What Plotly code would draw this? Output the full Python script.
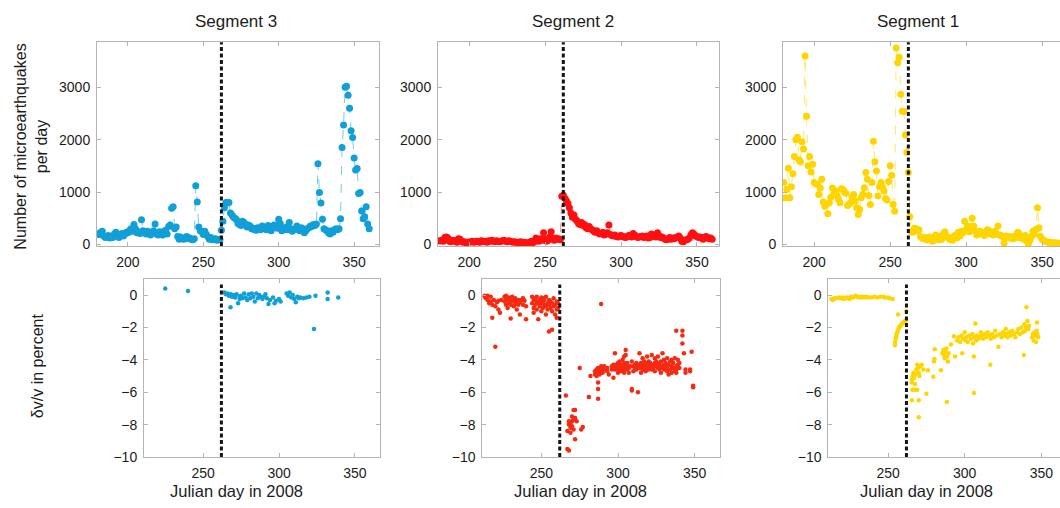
import plotly.graph_objects as go

# ---------------- data ----------------
DAY_START = 180

# daily number of microearthquakes (top row), starting at DAY_START
seg3_counts = [200, 190, 230, 250, 160, 130, 140, 170, 120, 150,
               130, 200, 230, 170, 130, 190, 210, 160, 200, 230,
               220, 260, 300, 250, 380, 300, 220, 240, 210, 470,
               260, 230, 200, 250, 220, 180, 230, 260, 390, 200,
               180, 240, 210, 180, 250, 270, 200, 340, 370, 690,
               720, 300, 330, 150, 100, 140, 110, 100, 120, 150,
               110, 120, 100, 90, 110, 1120, 810, 330, 260, 240,
               190, 250, 190, 150, 100, 130, 90, 100, 110, 80,
               90, 100, 270, 440, 700, 800, 790, 800, 600, 560,
               520, 500, 470, 400, 380, 360, 440, 420, 380, 330,
               370, 350, 300, 310, 280, 270, 320, 300, 280, 350,
               330, 300, 280, 360, 320, 260, 330, 370, 350, 310,
               480, 400, 260, 300, 280, 330, 280, 420, 300, 250,
               280, 300, 350, 280, 260, 320, 300, 220, 260, 300,
               320, 350, 340, 380, 360, 390, 1540, 990, 790, 480,
               300, 280, 260, 220, 200, 260, 230, 280, 300, 280,
               300, 490, 1850, 2280, 3000, 3020, 2850, 2600, 2170, 2040,
               1650, 1420, 1450, 970, 990, 640, 490, 530, 720, 390,
               300]

seg2_counts = [70, 60, 80, 60, 130, 140, 120, 60, 50, 80,
               70, 60, 40, 110, 100, 60, 40, 50, 30, 40,
               40, 50, 60, 40, 50, 60, 50, 40, 70, 60,
               50, 60, 40, 70, 60, 80, 60, 50, 70, 60,
               50, 60, 70, 80, 60, 50, 70, 60, 50, 40,
               50, 40, 30, 40, 50, 30, 40, 30, 20, 30,
               40, 60, 30, 50, 120, 90, 60, 110, 80, 220,
               100, 60, 80, 140, 240, 110, 80, 120, 100, 110,
               90, 920, 940, 880, 840, 780, 700, 600, 520, 560,
               480, 450, 400, 380, 420, 360, 380, 320, 300, 340,
               300, 280, 250, 230, 260, 220, 200, 210, 230, 180,
               200, 220, 370, 190, 170, 160, 180, 150, 140, 160,
               170, 150, 140, 130, 150, 170, 160, 140, 210, 180,
               150, 130, 140, 150, 160, 130, 150, 160, 120, 130,
               200, 160, 150, 140, 220, 170, 130, 140, 120, 100,
               90, 110, 130, 100, 120, 110, 130, 140, 160, 120,
               60, 50, 80, 90, 100, 120, 180, 220, 200, 160,
               150, 130, 140, 130, 100, 120, 150, 130, 110, 120,
               100]

seg1_counts = [1180, 890, 1050, 1455, 890, 1100, 1350, 1680, 2000, 2045,
               1615, 1577, 1960, 1820, 3600, 2450, 1500, 1680, 1385, 1530,
               1180, 1160, 1150, 955, 1077, 1244, 808, 730, 760, 583,
               795, 900, 1077, 968, 1020, 940, 860, 795, 1064, 1050,
               1000, 975, 744, 770, 795, 900, 955, 827, 700, 570,
               667, 890, 960, 1083, 1372, 1244, 936, 763, 1180, 1968,
               1577, 1404, 923, 1100, 1180, 1096, 1020, 878, 846, 1200,
               1500, 1320, 763, 635, 3750, 3468, 3577, 2870, 2545, 2540,
               2090, 1756, 1372, 530, 240, 230, 310, 300, 260, 280,
               150, 120, 110, 130, 90, 100, 140, 80, 60, 130,
               180, 120, 90, 150, 100, 200, 240, 160, 130, 100,
               120, 80, 150, 180, 120, 230, 160, 250, 220, 440,
               280, 350, 240, 340, 500, 350, 250, 180, 200, 250,
               230, 200, 170, 220, 280, 260, 200, 220, 180, 250,
               200, 350, 180, 170, 150, 20, 160, 130, 150, 120,
               140, 110, 160, 130, 230, 200, 120, 150, 100, 170,
               60, 10, 80, 150, 250, 200, 290, 700, 320, 150,
               100, 80, 60, 50, 40, 35, 30, 25, 30, 20,
               25, 20]

# dv/v in percent (bottom row)
seg3_dv_day = [225, 240, 264, 265, 266, 267, 268, 268, 269, 270, 271, 272, 273, 274, 274,
               275, 276, 277, 278, 279, 280, 281, 282, 283, 284, 285, 286, 287, 288, 289,
               290, 291, 292, 293, 294, 296, 297, 298, 300, 301, 305, 306, 307, 308, 309,
               310, 311, 312, 313, 314, 316, 318, 320, 323, 324, 332, 332, 339]
seg3_dv = [0.4, 0.25, 0.15, 0.05, 0.1, -0.05, -0.75, 0.05, -0.1, 0.0, -0.15, 0.05, -0.5, -0.1, -0.25,
           -0.05, -0.2, 0.1, -0.15, -0.3, 0.05, -0.2, 0.1, -0.1, -0.4, 0.1, -0.2, 0.0, -0.1, -0.25,
           -0.1, 0.05, -0.2, -0.55, -0.3, -0.15, -0.5, -0.35, -0.25, -0.4, 0.1, -0.05, 0.15, -0.15, 0.0,
           -0.25, -0.45, -0.1, -0.2, -0.15, -0.2, -0.15, -0.1, -2.1, -0.05, 0.15, -0.25, -0.15]

seg2_dv_day = [213, 213, 214, 215, 215, 216, 217, 217, 218, 218, 219, 220, 220, 221, 222, 222, 223, 224,
               226, 226, 227, 227, 227, 228, 228, 229, 229, 230, 230, 230, 231, 231, 232, 232, 233, 233,
               234, 234, 235, 235, 236, 236, 237, 238, 238, 239, 240, 240,
               244, 244, 245, 245, 245, 246, 246, 247, 247, 247, 248, 248, 249, 249, 250, 250, 250,
               251, 251, 251, 252, 252, 253, 253, 253, 254, 254, 255, 255, 255, 256, 256, 257, 257, 257,
               258, 258, 259, 259, 260, 260, 260, 261, 261,
               266, 267, 267, 268, 268, 268, 269, 269, 269, 270, 270, 270, 271, 271, 271, 272, 272, 272,
               273, 275, 276, 277, 281, 282, 285, 285, 286, 286, 286, 287, 287, 287, 287, 287,
               288, 288, 288, 289, 289, 289, 290, 290, 291, 291, 293, 293, 294, 296, 296, 297, 297,
               298, 298, 298, 299, 299, 300, 300, 300, 301, 301, 302, 302, 302, 303, 303,
               304, 304, 304, 304, 305, 305, 305, 305, 306, 306, 306, 307, 307, 308, 309, 309, 309,
               310, 310, 311, 311, 312, 312, 313, 313, 314, 314, 314, 315, 315, 315, 316, 316, 316,
               317, 317, 318, 318, 318, 319, 319, 320, 320, 320, 321, 321, 322, 322, 322, 323, 323,
               324, 324, 324, 325, 325, 326, 326, 326, 327, 327, 328, 328, 328, 329, 329, 330, 330, 330,
               331, 331, 332, 332, 332, 333, 333, 334, 334, 335, 335, 335, 336, 336, 337, 337,
               338, 338, 338, 338, 339, 339, 340, 340, 342, 342, 342, 343, 344, 344, 347, 347, 348, 349, 349]
seg2_dv = [-0.05, -0.1, -0.2, -0.05, -0.3, -0.5, -0.1, -0.4, -1.4, -0.6, -0.3, -3.2, -0.7, -0.45, -0.35, -0.9, -1.1, -0.3,
           -0.1, -0.4, -0.05, -0.2, -0.6, -0.3, -0.8, -0.5, -0.15, -0.25, -1.45, -0.6, -0.4, -0.1, -0.7, -0.3, -0.2, -0.55,
           -0.35, -0.9, -0.6, -0.3, -1.2, -0.45, -0.3, -0.2, -0.6, -0.35, -1.5, -0.7,
           -0.1, -0.5, -0.3, -0.8, -1.1, -0.2, -0.6, -0.4, -0.9, -0.1, -0.5, -1.5, -0.3, -0.7, -0.15, -0.5, -1.0,
           -0.4, -0.8, -0.2, -0.6, -0.3, -0.7, -1.2, -0.1, -0.5, -0.9, -0.3, -2.25, -0.6, -0.8, -0.4, -2.15, -0.5, -1.0,
           -0.2, -0.7, -0.6, -1.2, -0.4, -0.9, -1.4, -0.5, -0.8,
           -6.2, -8.4, -9.5, -8.0, -9.6, -7.8, -7.9, -8.5, -8.2, -7.5, -7.8, -8.1, -7.1, -7.7, -8.3, -7.1, -8.9, -7.6,
           -7.8, -4.5, -8.3, -8.15, -6.3, -5.0, -4.9, -4.7, -4.6, -4.8, -5.0, -4.5, -4.7, -5.4, -5.8, -6.4,
           -4.5, -4.6, -4.9, -4.4, -4.7, -0.55, -4.5, -4.8, -4.6, -4.4, -4.7, -4.5, -4.9, -4.6, -4.4, -5.1, -4.3,
           -3.6, -4.4, -4.6, -4.3, -4.5, -4.2, -4.6, -4.8, -4.4, -4.1, -4.5, -4.7, -4.3, -4.0, -4.4,
           -4.2, -4.6, -4.8, -3.8, -4.4, -4.5, -3.4, -3.7, -4.3, -4.6, -4.2, -4.5, -4.8, -4.4, -5.8, -5.9, -4.1,
           -4.4, -4.7, -4.3, -4.5, -4.6, -4.2, -6.0, -4.4, -3.6, -4.3, -4.5, -4.2, -4.5, -4.8, -4.4, -3.9, -4.6,
           -4.3, -4.1, -4.5, -4.2, -4.7, -4.4, -3.8, -4.3, -4.6, -4.1, -4.5, -4.2, -3.7, -4.4, -4.6, -4.3, -4.5,
           -4.2, -3.9, -4.7, -4.4, -4.1, -4.5, -4.3, -3.8, -4.6, -4.2, -4.4, -4.8, -4.1, -3.6, -4.5, -4.3, -4.6, -4.0,
           -4.4, -4.2, -4.7, -3.9, -4.5, -4.3, -4.9, -4.6, -4.1, -4.4, -4.8, -4.0, -4.2, -4.5, -4.7, -3.9,
           -2.2, -4.4, -4.6, -4.8, -4.3, -4.0, -4.5, -4.2, -2.2, -2.5, -3.0, -3.6, -4.8, -4.6, -4.7, -4.6, -3.5, -5.6, -5.7]

seg1_dv_day = [213, 214, 215, 216, 218, 219, 220, 221, 222, 223, 224, 225, 226, 227, 228, 229, 230, 231,
               232, 233, 234, 235, 236, 237, 239, 241, 243, 245, 247, 248, 250, 251, 253,
               254.5, 254.7, 255.0, 255.3, 255.6, 256.0, 256.4, 256.8, 257.2, 257.7, 258.2, 258.8,
               259.4, 260.0, 260.6, 261.2, 261.7, 256.5, 261.8,
               265.5, 265.7, 266.0, 266.5, 267.0, 267.5, 268.0, 268.5, 269.0, 269.5, 270.0, 270.5,
               271.0, 272.0, 273.0, 266.0, 267.5, 269.0, 265.5, 270.0, 270.0,
               275.0, 276.0, 279.5, 280.0, 280.3, 280.5, 284.5, 285.5, 286.0, 286.5, 287.0, 287.5,
               288.0, 288.5, 289.0, 289.5, 288.3, 291.0, 293.0, 293.7, 295.0, 296.0, 297.0, 298.0,
               298.4, 299.0, 300.0, 300.5, 301.0, 302.0, 303.0, 304.0, 305.0, 305.5, 306.0, 306.0,
               306.0, 307.0, 307.5, 308.0, 309.0, 310.0, 310.5, 311.0, 312.0, 313.0, 314.0, 315.0,
               316.0, 316.7, 317.0, 318.0, 319.0, 320.0, 321.0, 322.0, 323.0, 324.0, 325.0, 326.0,
               326.8, 327.0, 328.0, 329.0, 330.0, 331.0, 332.0, 333.0, 334.0, 335.0, 336.0, 337.0,
               338.0, 338.6, 339.0, 339.5, 340.0, 340.3, 341.0, 341.5, 342.0, 344.0, 344.5, 345.0,
               345.5, 346.0, 346.5, 347.0, 347.2, 347.5, 348.0]
seg1_dv = [-0.25, -0.3, -0.2, -0.2, -0.15, -0.2, -0.15, -0.25, -0.2, -0.15, -0.2, -0.25, -0.1, -0.15, -0.1, -0.05, -0.1, -0.15,
           -0.1, -0.15, -0.1, -0.15, -0.1, -0.15, -0.15, -0.1, -0.15, -0.1, -0.1, -0.15, -0.15, -0.2, -0.25,
           -3.1, -2.9, -2.7, -2.55, -2.4, -2.3, -2.2, -2.1, -2.0, -1.95, -1.9, -1.8,
           -1.75, -1.7, -1.65, -1.6, -1.55, -1.2, -1.0,
           -5.4, -5.2, -5.0, -4.8, -5.1, -5.5, -4.9, -4.6, -4.3, -4.5, -4.8, -5.0,
           -4.4, -4.3, -4.6, -5.85, -5.85, -5.85, -6.5, -6.5, -7.55,
           -6.1, -4.65, -5.05, -4.1, -3.95, -3.35, -4.65, -3.6, -3.4, -3.7, -3.9, -3.5,
           -3.3, -3.8, -4.1, -3.6, -6.6, -3.05, -2.55, -3.8, -2.8, -2.6, -2.9, -2.5,
           -3.6, -2.7, -2.3, -2.8, -2.6, -2.9, -2.5, -2.7, -2.4, -3.0, -2.6, -3.8,
           -6.05, -1.75, -2.8, -2.5, -2.7, -2.6, -2.3, -2.5, -2.7, -2.4, -2.6, -2.3,
           -2.5, -4.3, -2.7, -2.4, -2.6, -2.2, -2.5, -3.2, -2.4, -2.6, -2.3, -2.5,
           -2.1, -2.4, -2.6, -2.3, -2.5, -2.2, -2.4, -2.6, -2.3, -2.1, -2.4, -2.0,
           -2.3, -3.7, -1.8, -2.2, -2.0, -0.75, -1.6, -2.1, -1.9, -2.6, -2.4, -2.8,
           -2.3, -2.5, -2.9, -2.2, -1.7, -2.4, -2.6]

INJECTION_DAY = 262
panel_titles = ["Segment 3", "Segment 2", "Segment 1"]
count_ticks = [0, 1000, 2000, 3000]
day_ticks_top = [200, 250, 300, 350]
day_ticks_bottom = [250, 300, 350]
dv_ticks = [0, -2, -4, -6, -8, -10]

# ---------------- styling ----------------
W, H = 1060, 508
BLUE = "#109fd7"
RED_TOP = "#ff1010"
RED_BOT = "#f52a12"
YELLOW = "#ffd500"
FRAME = "#b4b4b4"
TXT = "#1c1c1c"
FONT = "Liberation Sans, Arial, Helvetica, sans-serif"


def px_x(p):
    return p / W


def px_y(p):
    return 1 - p / H


def sfx(n):
    return "" if n == 1 else str(n)


def days_for(values):
    return list(range(DAY_START, DAY_START + len(values)))


fig = go.Figure()

top_series = [(seg3_counts, BLUE, "rgba(16,159,215,0.55)"),
              (seg2_counts, RED_TOP, "rgba(255,16,16,0.5)"),
              (seg1_counts, YELLOW, "rgba(255,213,0,0.6)")]
for i, (vals, col, lcol) in enumerate(top_series):
    fig.add_trace(go.Scatter(
        x=days_for(vals), y=vals, mode="lines+markers",
        line=dict(color=lcol, width=1, dash="dash"),
        marker=dict(color=col, size=7, line=dict(width=0)),
        xaxis="x" + sfx(i + 1), yaxis="y" + sfx(i + 1), showlegend=False, hoverinfo="skip"))

bottom_series = [(seg3_dv_day, seg3_dv, BLUE),
                 (seg2_dv_day, seg2_dv, RED_BOT),
                 (seg1_dv_day, seg1_dv, YELLOW)]
for i, (xd, yd, col) in enumerate(bottom_series):
    fig.add_trace(go.Scatter(
        x=xd, y=yd, mode="markers",
        marker=dict(color=col, size=4.5, line=dict(width=0)),
        xaxis="x" + sfx(i + 4), yaxis="y" + sfx(i + 4), showlegend=False, hoverinfo="skip"))

# panel geometry (pixels) and ranges
top_y = (43, 250)
bot_y = (283.3, 464.3)
top_x = [(97, 379), (438, 719), (783, 1060)]
bot_x = [(144, 380), (482.3, 720), (828.3, 1060)]
top_ranges = [[179.5, 366.5], [179.5, 364.5], [179.5, 361.8]]
bot_ranges = [[211, 366.5], [211.5, 366.5], [211, 362.2]]

tickfont = dict(family=FONT, size=14, color=TXT)
common = dict(showgrid=False, zeroline=False, showline=True, linecolor=FRAME, linewidth=1,
              ticks="inside", ticklen=4, tickcolor=FRAME, tickwidth=1, tickfont=tickfont,
              ticklabeloverflow="allow", ticklabelstandoff=3)

layout = dict(width=W, height=H, margin=dict(l=0, r=0, t=0, b=0),
              paper_bgcolor="white", plot_bgcolor="white", showlegend=False)

for i in range(3):
    n = i + 1
    last = (i == 2)
    layout["xaxis" + sfx(n)] = dict(common, domain=[px_x(top_x[i][0]), px_x(top_x[i][1])],
                                    range=top_ranges[i], tickvals=day_ticks_top,
                                    anchor="y" + sfx(n), mirror="ticks")
    layout["yaxis" + sfx(n)] = dict(common, domain=[px_y(top_y[1]), px_y(top_y[0])],
                                    range=[-32, 3860], tickvals=count_ticks,
                                    anchor="x" + sfx(n), mirror=False if last else "ticks")
    m = i + 4
    layout["xaxis" + sfx(m)] = dict(common, domain=[px_x(bot_x[i][0]), px_x(bot_x[i][1])],
                                    range=bot_ranges[i], tickvals=day_ticks_bottom,
                                    anchor="y" + sfx(m), mirror="ticks")
    layout["yaxis" + sfx(m)] = dict(common, domain=[px_y(bot_y[1]), px_y(bot_y[0])],
                                    range=[-10, 1], tickvals=dv_ticks,
                                    anchor="x" + sfx(m), mirror=False if last else "ticks")

shapes = []
for i in range(3):
    shapes.append(dict(type="line", xref="x" + sfx(i + 1), yref="y" + sfx(i + 1) + " domain",
                       x0=INJECTION_DAY, x1=INJECTION_DAY, y0=0, y1=1,
                       line=dict(color="#141414", width=3, dash="4px,2.5px")))
    shapes.append(dict(type="line", xref="x" + sfx(i + 4), yref="y" + sfx(i + 4),
                       x0=INJECTION_DAY, x1=INJECTION_DAY, y0=-10, y1=0.65,
                       line=dict(color="#141414", width=3, dash="4px,2.5px")))
layout["shapes"] = shapes

title_x = [236, 572.5, 917.5]
label_x = [236, 580, 926]
ann = []
for i in range(3):
    ann.append(dict(text=panel_titles[i], x=px_x(title_x[i]), y=px_y(22), xref="paper", yref="paper",
                    showarrow=False, xanchor="center", yanchor="middle",
                    font=dict(family=FONT, size=17, color=TXT)))
    ann.append(dict(text="Julian day in 2008", x=px_x(label_x[i]), y=px_y(499), xref="paper", yref="paper",
                    showarrow=False, xanchor="center", yanchor="middle",
                    font=dict(family=FONT, size=16.5, color=TXT)))
ann.append(dict(text="Number of microearthquakes<br>per day", x=px_x(31), y=px_y(149),
                xref="paper", yref="paper", showarrow=False, textangle=-90,
                xanchor="center", yanchor="middle",
                font=dict(family=FONT, size=16, color=TXT)))
ann.append(dict(text="δv/v in percent", x=px_x(37), y=px_y(372),
                xref="paper", yref="paper", showarrow=False, textangle=-90,
                xanchor="center", yanchor="middle",
                font=dict(family=FONT, size=16, color=TXT)))
layout["annotations"] = ann

fig.update_layout(**layout)
# remove the browser's default body margin so the figure sits at the page origin
fig.write_html("out.html", config={"displayModeBar": False},
               post_script="document.body.style.margin='0';document.body.style.overflow='hidden';")
